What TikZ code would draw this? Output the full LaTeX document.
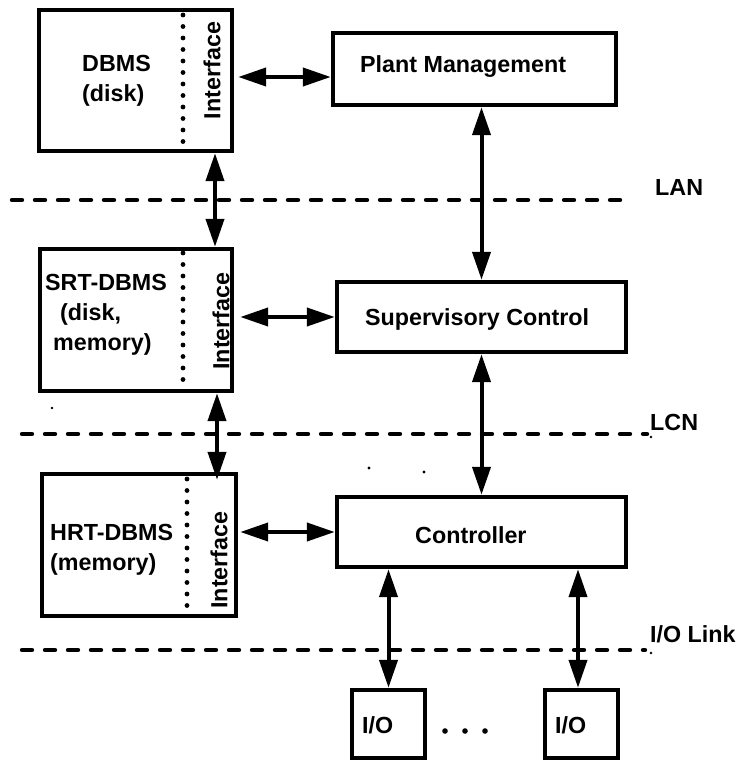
\documentclass[tikz,border=0pt]{standalone}
\usepackage{fontspec}
\setmainfont{Liberation Sans}
\usetikzlibrary{arrows.meta,calc}

\tikzset{
  box/.style={draw, line width=4.4pt, rectangle, inner sep=0pt, fill=white},
  txt/.style={inner sep=0pt, anchor=base west, font=\fontsize{23.3}{28}\selectfont\bfseries},
  iface/.style={inner sep=0pt, rotate=90, font=\fontsize{23.3}{28}\selectfont\bfseries},
  biarrow/.style={line width=4pt, {Triangle[length=28pt,width=18pt]}-{Triangle[length=28pt,width=18pt]}},
  netline/.style={line width=4.4pt, line cap=round, dash pattern=on 10pt off 13pt},
  dotline/.style={line width=4.8pt, line cap=round, dash pattern=on 0pt off 11.5pt},
  speck/.style={fill=black, draw=none}
}

\begin{document}
\begin{tikzpicture}[x=1pt,y=-1pt]
\useasboundingbox (0,0) rectangle (739,762);

% network levels
\draw[netline] (12,200) -- (632,200);
\draw[netline] (22,434) -- (647,434);
\draw[netline] (22,650) -- (645,650);
\node[txt] (lan) at (655,195) {LAN};
\node[txt] (lcn) at (650,430) {LCN};
\node[txt] (iolink) at (650,642) {I/O Link};

% database side
\node[box, minimum width=193pt, minimum height=141pt] (dbms) at (135.5,80.5) {};
\node[box, minimum width=192pt, minimum height=142pt] (srt) at (136,320) {};
\node[box, minimum width=194pt, minimum height=142pt] (hrt) at (139,545) {};

\draw[dotline] (183,15) -- (183,147);
\draw[dotline] (183,253) -- (183,386);
\draw[dotline] (187,479) -- (187,611);

\node[txt] (dbmsA) at (82,72) {DBMS};
\node[txt] (dbmsB) at (82,102) {(disk)};
\node[txt] (srtA) at (45,290) {SRT-DBMS};
\node[txt] (srtB) at (60,320) {(disk,};
\node[txt] (srtC) at (53,350) {memory)};
\node[txt] (hrtA) at (50,540) {HRT-DBMS};
\node[txt] (hrtB) at (50,570) {(memory)};

\node[iface] (ifA) at (212,70.5) {Interface};
\node[iface] (ifB) at (221,321) {Interface};
\node[iface] (ifC) at (219,560) {Interface};

% control side
\node[box, minimum width=283pt, minimum height=72pt] (pm) at (474.5,69) {};
\node[box, minimum width=289pt, minimum height=70pt] (sup) at (481.5,317) {};
\node[box, minimum width=289pt, minimum height=70pt] (ctrl) at (481.5,532) {};
\node[box, minimum width=73pt, minimum height=68pt] (io1) at (388.5,724) {};
\node[box, minimum width=73pt, minimum height=68pt] (io2) at (581.5,724) {};

\node[txt] (pmT) at (360,73) {Plant Management};
\node[txt] (supT) at (365,325) {Supervisory Control};
\node[txt] (ctrlT) at (415,543) {Controller};
\node[txt] (io1T) at (362,733) {I/O};
\node[txt] (io2T) at (555,733) {I/O};

% ellipsis between the I/O units
\foreach \px in {445,465,485} \fill (\px,731) circle (2.8pt);

% links
\coordinate (colA) at (215,0);
\coordinate (colB) at (217,0);
\coordinate (colC) at (578,0);
\coordinate (rowA) at (0,77);
\coordinate (rowB) at (0,317);
\coordinate (rowC) at (0,532);

\draw[biarrow] ([xshift=4pt]dbms.east |- rowA) -- (pm.west |- rowA);
\draw[biarrow] (dbms.south -| colA) -- (srt.north -| colA);
\draw[biarrow] (pm.south -| sup.north) -- (sup.north);
\draw[biarrow] ([xshift=6pt]srt.east |- rowB) -- (sup.west |- rowB);
\draw[biarrow] (srt.south -| colB) -- ([yshift=-8pt]hrt.north -| colB);
\draw[biarrow] ([xshift=2pt]hrt.east |- rowC) -- (ctrl.west |- rowC);
\draw[biarrow] (sup.south) -- (ctrl.north);
\draw[biarrow] (ctrl.south -| io1.north) -- (io1.north);
\draw[biarrow] (ctrl.south -| colC) -- (io2.north -| colC);

% small specks
\fill[speck] (52,408) circle (1.4pt);
\fill[speck] (369,468) circle (1.6pt);
\fill[speck] (424,472) circle (1.6pt);
\fill[speck] (651,437) circle (1.3pt);
\fill[speck] (651,653) circle (1.3pt);
\end{tikzpicture}
\end{document}
